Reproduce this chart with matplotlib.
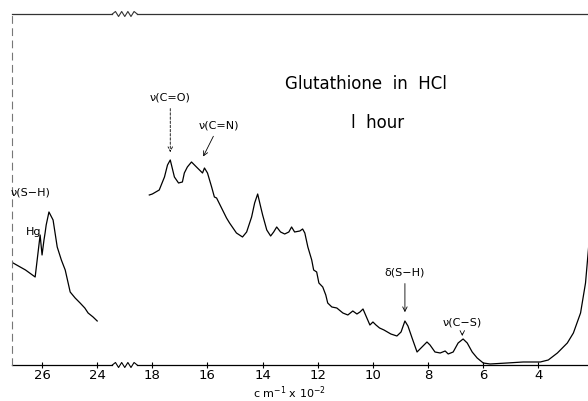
import numpy as np
import matplotlib.pyplot as plt

# Wavenumbers are in cm^-1 x 10^-2, intensity in arbitrary units
# Left piece: 27 - 24
wn_left = [27.05, 26.6, 26.25, 26.07, 26.0, 25.93, 25.89, 25.85, 25.75, 25.6,
           25.45, 25.3, 25.16, 24.98, 24.8, 24.62, 24.45, 24.33, 24.15, 24.0]
int_left = [102, 95, 88, 130, 110, 125, 132, 140, 153, 145,
            118, 105, 95, 73, 67, 62, 57, 52, 48, 44]

# Right piece: 18 - 2
wn_main = [18.11, 18.0, 17.75, 17.56, 17.45, 17.35, 17.2, 17.05, 16.91, 16.84,
           16.73, 16.58, 16.4, 16.18, 16.11, 16.0, 15.85, 15.75, 15.67, 15.49,
           15.31, 15.2, 14.95, 14.73, 14.58, 14.4, 14.29, 14.18, 14.07, 14.0,
           13.85, 13.71, 13.6, 13.49, 13.35, 13.2, 13.05, 12.95, 12.84, 12.65,
           12.55, 12.47, 12.36, 12.22, 12.15, 12.04, 11.96, 11.82, 11.71, 11.64,
           11.49, 11.31, 11.09, 10.91, 10.73, 10.58, 10.47, 10.36, 10.22, 10.11,
           10.0, 9.89, 9.76, 9.6, 9.35, 9.13, 8.98, 8.84, 8.73, 8.58,
           8.4, 8.22, 8.04, 7.93, 7.75, 7.56, 7.38, 7.27, 7.09, 6.91,
           6.73, 6.58, 6.4, 6.22, 6.0, 5.75, 5.13, 4.55, 3.93, 3.64,
           3.31, 2.95, 2.73, 2.47, 2.29, 2.18, 2.1]
int_main = [170, 171, 175, 188, 200, 205, 188, 182, 183, 192,
            198, 203, 198, 192, 197, 192, 178, 168, 167, 157,
            147, 142, 132, 128, 133, 148, 162, 171, 158, 150,
            135, 129, 133, 138, 133, 131, 133, 138, 133, 134,
            136, 132, 118, 105, 95, 93, 82, 78, 70, 62,
            58, 57, 52, 50, 54, 51, 53, 56, 47, 40,
            43, 40, 37, 35, 31, 29, 33, 44, 39, 27,
            13, 18, 23, 20, 13, 12, 14, 11, 13, 22,
            26, 22, 13, 7, 2, 1, 2, 3, 3, 5,
            12, 22, 32, 52, 82, 117, 145]

tick_vals = [26, 24, 18, 16, 14, 12, 10, 8, 6, 4]
shift = 4          # the 27-24 piece is drawn 4 units closer to the 18-2 piece
brk_lo, brk_hi = 18.55, 19.45
ytop = 351

def pos(v):
    v = np.asarray(v, dtype=float)
    return np.where(v > 19, v - shift, v)

fig = plt.figure(figsize=(5.88, 4.01), dpi=100)
ax = fig.add_axes([0.0204, 0.0898, 0.9796, 0.8753])
ax.set_xlim(23.09, 2.2)
ax.set_ylim(0, ytop)

ax.plot(pos(wn_left), int_left, color='black', lw=0.9, clip_on=False)
ax.plot(pos(wn_main), int_main, color='black', lw=0.9, clip_on=True)

# frame with axis breaks
for s in ['top', 'bottom', 'right']:
    ax.spines[s].set_visible(False)
ax.spines['left'].set_linestyle((0, (6, 5)))
ax.spines['left'].set_color('#777777')
ax.spines['left'].set_linewidth(0.8)

zx = np.linspace(brk_hi, brk_lo, 9)
zy = np.array([0, 1, -1, 1, -1, 1, -1, 1, 0]) * 2.5
for y0, col in [(0, 'black'), (ytop, '#333333')]:
    ax.plot([23.09, brk_hi], [y0, y0], color=col, lw=0.9, clip_on=False)
    ax.plot(zx, y0 + zy, color=col, lw=0.8, clip_on=False)
    ax.plot([brk_lo, 2.2], [y0, y0], color=col, lw=0.9, clip_on=False)

ax.set_xticks(pos(tick_vals))
ax.set_xticklabels([str(t) for t in tick_vals], fontsize=9.5)
ax.tick_params(axis='x', direction='inout', length=4, width=0.8, pad=1)
ax.set_yticks([])
fig.text(0.493, 0.0, 'c m$^{-1}$ x 10$^{-2}$', fontsize=8,
         ha='center', va='bottom')

ax.text(0.615, 0.80, 'Glutathione  in  HCl', transform=ax.transAxes,
        fontsize=12, ha='center', va='center')
ax.text(0.635, 0.69, 'l  hour', transform=ax.transAxes,
        fontsize=12, ha='center', va='center')

# band labels
arrow = dict(arrowstyle='->', color='black', lw=0.6, linestyle=(0, (3, 2)))
ax.annotate('ν(C=O)', xy=(17.35, 210), xytext=(17.35, 262),
            fontsize=8, ha='center', va='bottom', arrowprops=arrow)
ax.annotate('ν(C=N)', xy=(16.2, 206), xytext=(15.6, 234),
            fontsize=8, ha='center', va='bottom',
            arrowprops=dict(arrowstyle='->', color='black', lw=0.6))
ax.text(pos(26.4), 172, 'ν(S−H)', fontsize=8, ha='center', va='center')
ax.text(pos(26.3), 133, 'Hg', fontsize=8, ha='center', va='center')
ax.annotate('δ(S−H)', xy=(8.84, 50), xytext=(8.84, 87),
            fontsize=8, ha='center', va='bottom',
            arrowprops=dict(arrowstyle='->', color='black', lw=0.6))
ax.annotate('ν(C−S)', xy=(6.76, 29), xytext=(6.76, 37),
            fontsize=8, ha='center', va='bottom',
            arrowprops=dict(arrowstyle='->', color='black', lw=0.6))

plt.savefig('out.png', dpi=100)
